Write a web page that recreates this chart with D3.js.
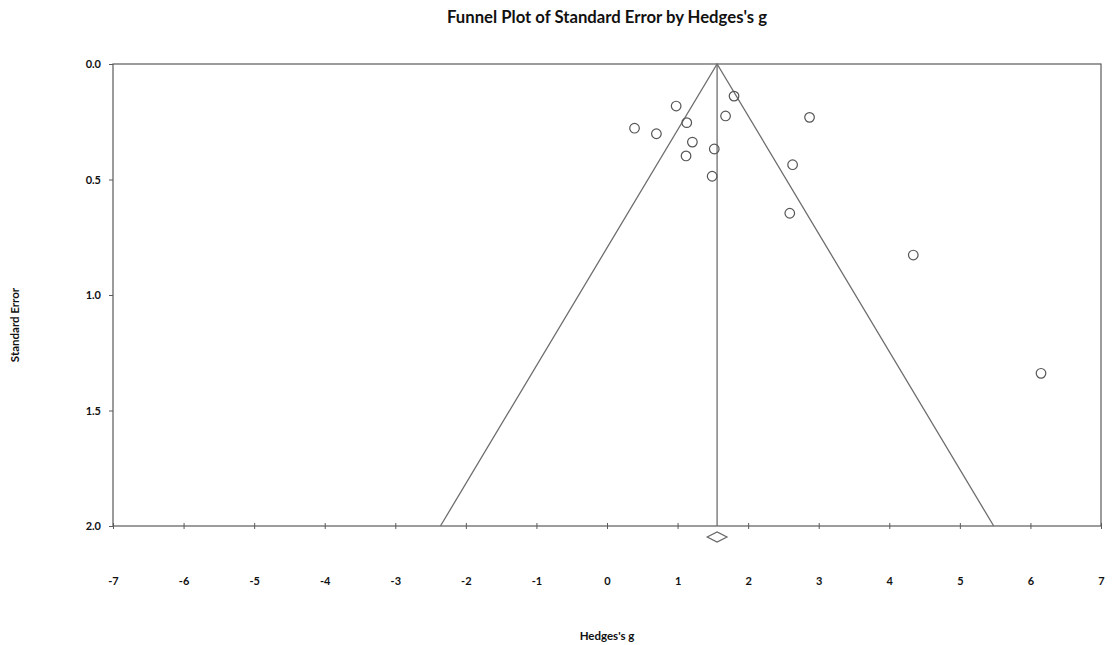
<!DOCTYPE html>
<html>
<head>
<meta charset="utf-8">
<script src="https://cdn.jsdelivr.net/npm/d3@7"></script>
<style>
  html, body { margin: 0; padding: 0; background: #fff; }
  svg { display: block; font-family: Lato, "Open Sans", sans-serif; }
</style>
</head>
<body>
<svg id="chart" width="1114" height="645"></svg>
<script>
// Study effects (Hedges's g) and their standard errors
const hedgesG = [0.98, 1.80, 0.39, 0.70, 1.13, 1.68, 2.87, 1.21, 1.52, 1.12, 2.63, 1.49, 2.59, 4.34, 6.15];
const stdErr  = [0.182, 0.139, 0.278, 0.302, 0.254, 0.225, 0.231, 0.338, 0.368, 0.398, 0.436, 0.486, 0.646, 0.827, 1.339];

// Combined effect and its confidence interval
const pooledEffect = 1.56;
const pooledCI = [1.42, 1.70];

const xTicks = [-7, -6, -5, -4, -3, -2, -1, 0, 1, 2, 3, 4, 5, 6, 7];
const yTicks = [0.0, 0.5, 1.0, 1.5, 2.0];

const svg = d3.select("#chart");
const plotLeft = 113, plotRight = 1101, plotTop = 64, plotBottom = 526;

const x = d3.scaleLinear().domain([-7, 7]).range([plotLeft, plotRight]);
const y = d3.scaleLinear().domain([0, 2]).range([plotTop, plotBottom]);

const axisColor = "#5a5a5a";
const lineColor = "#6e6e6e";
const labelFont = "Lato, 'Open Sans', sans-serif";

// Title
svg.append("text")
  .attr("x", (plotLeft + plotRight) / 2).attr("y", 23)
  .attr("text-anchor", "middle")
  .attr("font-size", 16.7).attr("font-weight", "bold").attr("fill", "#111")
  .text("Funnel Plot of Standard Error by Hedges's g");

// Plot frame
svg.append("rect")
  .attr("x", plotLeft).attr("y", plotTop)
  .attr("width", plotRight - plotLeft).attr("height", plotBottom - plotTop)
  .attr("fill", "none").attr("stroke", axisColor).attr("stroke-width", 1.2);

// Funnel: 95% pseudo-confidence limits around the combined effect
const seMax = 2;
const funnel = [
  [pooledEffect - 1.96 * seMax, seMax],
  [pooledEffect, 0],
  [pooledEffect + 1.96 * seMax, seMax]
];
svg.append("path")
  .attr("d", d3.line().x(d => x(d[0])).y(d => y(d[1]))(funnel))
  .attr("fill", "none").attr("stroke", lineColor).attr("stroke-width", 1.3);

// Vertical line at the combined effect
svg.append("line")
  .attr("x1", x(pooledEffect)).attr("x2", x(pooledEffect))
  .attr("y1", y(0)).attr("y2", y(2))
  .attr("stroke", lineColor).attr("stroke-width", 1.3);

// X axis ticks and labels (plain hyphen for negatives)
const xAxis = d3.axisBottom(x).tickValues(xTicks).tickSize(0).tickFormat(d => String(d));
const gx = svg.append("g").attr("transform", `translate(0,${plotBottom})`).call(xAxis);
gx.select(".domain").remove();
gx.selectAll(".tick").append("line")
  .attr("y1", -3).attr("y2", 3).attr("stroke", axisColor);
gx.selectAll(".tick text")
  .attr("y", 59).attr("dy", "0")
  .attr("font-size", 11).attr("font-weight", "bold").attr("fill", "#111")
  .attr("font-family", labelFont);

// Y axis ticks and labels
const yAxis = d3.axisLeft(y).tickValues(yTicks).tickSize(0).tickFormat(d3.format(".1f"));
const gy = svg.append("g").attr("transform", `translate(${plotLeft},0)`).call(yAxis);
gy.select(".domain").remove();
gy.selectAll(".tick").append("line")
  .attr("x1", -4).attr("x2", 0).attr("stroke", axisColor);
gy.selectAll(".tick text")
  .attr("x", -12).attr("dy", "0.32em")
  .attr("font-size", 11).attr("font-weight", "bold").attr("fill", "#111")
  .attr("font-family", labelFont);

// Axis titles
svg.append("text")
  .attr("x", (plotLeft + plotRight) / 2).attr("y", 640)
  .attr("text-anchor", "middle")
  .attr("font-size", 11.5).attr("font-weight", "bold").attr("fill", "#111")
  .text("Hedges's g");

svg.append("text")
  .attr("transform", "translate(19,325) rotate(-90)")
  .attr("text-anchor", "middle")
  .attr("font-size", 11.5).attr("font-weight", "bold").attr("fill", "#111")
  .text("Standard Error");

// Study points
const studies = hedgesG.map((g, i) => ({ g, se: stdErr[i] }));
svg.append("g").selectAll("circle")
  .data(studies)
  .join("circle")
  .attr("cx", d => x(d.g)).attr("cy", d => y(d.se))
  .attr("r", 4.8)
  .attr("fill", "none").attr("stroke", "#555").attr("stroke-width", 1.2);

// Diamond for the combined effect below the axis
const dmY = plotBottom + 11, dmH = 5;
const diamond = [
  [x(pooledCI[0]), dmY],
  [x(pooledEffect), dmY - dmH],
  [x(pooledCI[1]), dmY],
  [x(pooledEffect), dmY + dmH]
];
svg.append("path")
  .attr("d", d3.line()(diamond) + "Z")
  .attr("fill", "none").attr("stroke", "#666").attr("stroke-width", 1.2);
</script>
</body>
</html>
